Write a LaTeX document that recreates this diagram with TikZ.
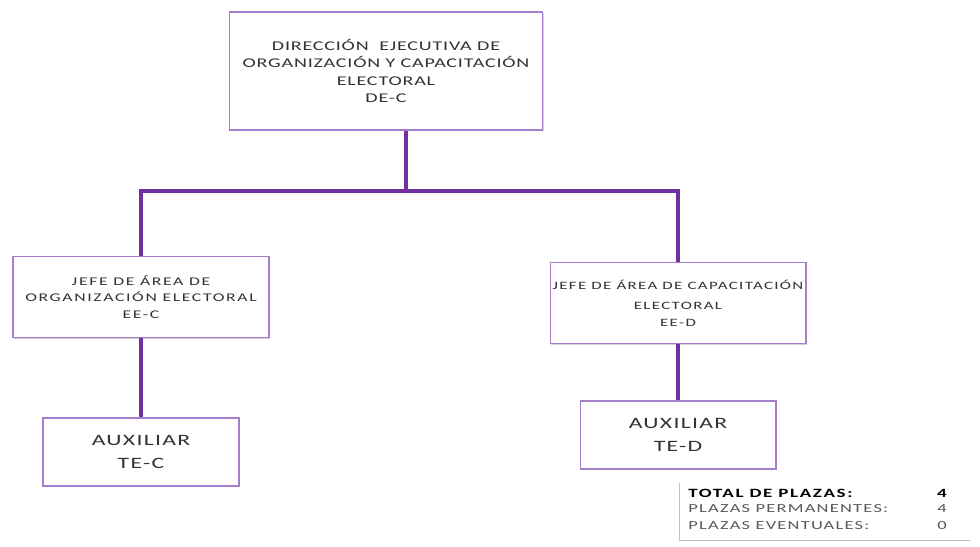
\documentclass[tikz,border=0pt]{standalone}
\usepackage{fontspec}
\setmainfont{Carlito}[FakeStretch=1.5]
\usepackage{xcolor}
\usetikzlibrary{positioning, shadows, calc}
\definecolor{linepurple}{HTML}{7030A0}
\definecolor{boxpurple}{HTML}{A57FCB}

\begin{document}
\begin{tikzpicture}[
    x=0.02cm, y=-0.02cm,
    every node/.style={align=center},
    box/.style={rectangle, draw=boxpurple, line width=0.6pt, fill=white, text=black!80, inner sep=1pt,
        drop shadow={opacity=0.35, shadow xshift=0.6pt, shadow yshift=-0.8pt}},
    head/.style={box, minimum width=6.26cm, minimum height=2.36cm, font=\fontsize{7.6}{9.8}\selectfont\addfontfeatures{LetterSpace=6}},
    chief/.style={box, minimum width=5.12cm, minimum height=1.62cm, font=\fontsize{6.4}{9.6}\selectfont\addfontfeatures{LetterSpace=12}},
    aux/.style={box, minimum width=3.92cm, minimum height=1.36cm, font=\fontsize{9}{13}\selectfont\addfontfeatures{LetterSpace=8}},
    tally/.style={text=black!65, inner sep=0pt, font=\fontsize{7}{9.4}\selectfont\addfontfeatures{LetterSpace=10}},
    conn/.style={draw=linepurple, line width=2.7pt}
]
\useasboundingbox (0,0) rectangle (980,547);

% Direction
\node (dec) [head] at (386,71) {DIRECCIÓN \ EJECUTIVA DE\\ORGANIZACIÓN Y CAPACITACIÓN\\ELECTORAL\\DE-C};

% Area chiefs
\node (eec) [chief, font=\fontsize{6.7}{9.6}\selectfont\addfontfeatures{LetterSpace=14}] at (141,297) {JEFE DE ÁREA DE\\ORGANIZACIÓN ELECTORAL\\EE-C};
\node (eed) [chief] at (678,303) {JEFE DE ÁREA DE CAPACITACIÓN\\[2pt]ELECTORAL\\EE-D};

% Assistants
\node (tec) [aux] at (141,452) {AUXILIAR\\TE-C};
\node (ted) [aux] at (678,435) {AUXILIAR\\TE-D};

% Totals
\node (totals) [rectangle, fill=white, minimum width=5.8cm, minimum height=1.14cm, inner sep=0pt] at (825,512) {};
\draw [black!25] (totals.north west) -- (totals.south west) -- (totals.south east);
\node (tot1) [tally, anchor=west, text=black, font=\fontsize{7.2}{9.4}\selectfont\bfseries\addfontfeatures{LetterSpace=13}] at (688,493) {TOTAL DE PLAZAS:};
\node (tot2) [tally, anchor=west] at (688,509) {PLAZAS PERMANENTES:};
\node (tot3) [tally, anchor=west] at (688,526) {PLAZAS EVENTUALES:};
\node (num1) [tally, text=black, font=\fontsize{7.2}{9.4}\selectfont\bfseries] at (942,493) {4};
\node (num2) [tally] at (942,509) {4};
\node (num3) [tally] at (942,526) {0};

% Connectors
\coordinate (bar) at (406,191);
\draw [conn] (bar |- dec.south) -- (bar);
\draw [conn] (eec.north) |- (bar) -| (eed.north);
\draw [conn] (eec) -- (tec);
\draw [conn] (eed) -- (ted);

\end{tikzpicture}
\end{document}
